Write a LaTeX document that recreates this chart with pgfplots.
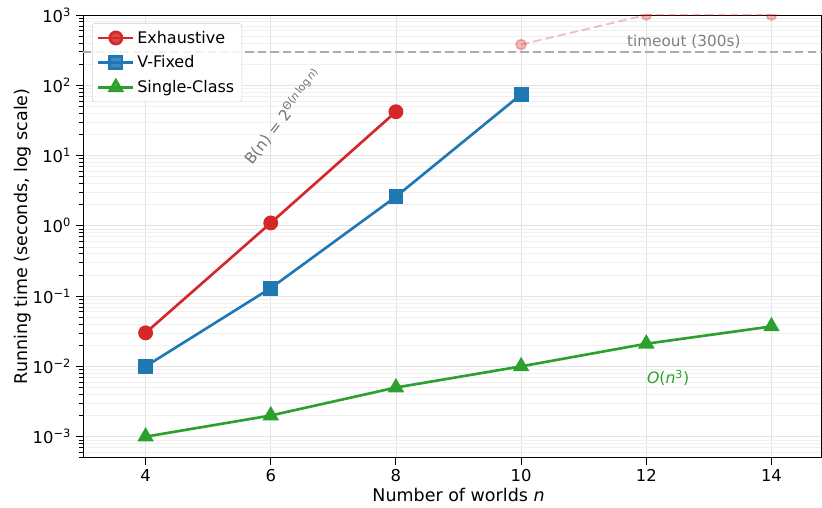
\documentclass[border=0pt]{standalone}
\usepackage{pgfplots}
\pgfplotsset{compat=1.18}
\usepackage{fontspec}
\setmainfont{DejaVu Sans}
\definecolor{tabred}{HTML}{D62728}
\definecolor{tabblue}{HTML}{1F77B4}
\definecolor{tabgreen}{HTML}{2CA02C}
\begin{document}
\begin{tikzpicture}
\begin{axis}[
  name=ax,
  scale only axis, width=532pt, height=319pt,
  xmin=3, xmax=14.8, ymode=log, ymin=5e-4, ymax=1e3,
  xtick={4,6,8,10,12,14},
  ytick={1e-3,1e-2,1e-1,1,10,100,1000},
  yticklabels={10\textsuperscript{−3},10\textsuperscript{−2},10\textsuperscript{−1},10\textsuperscript{0},10\textsuperscript{1},10\textsuperscript{2},10\textsuperscript{3}},
  minor ytick={5e-4,6e-4,7e-4,8e-4,9e-4,
    2e-3,3e-3,4e-3,5e-3,6e-3,7e-3,8e-3,9e-3,
    2e-2,3e-2,4e-2,5e-2,6e-2,7e-2,8e-2,9e-2,
    0.2,0.3,0.4,0.5,0.6,0.7,0.8,0.9,
    2,3,4,5,6,7,8,9,
    20,30,40,50,60,70,80,90,
    200,300,400,500,600,700,800,900},
  grid=both,
  major grid style={gray!22, line width=0.6pt},
  minor grid style={gray!12, line width=0.5pt},
  xtick pos=bottom, ytick pos=left,
  tick align=outside,
  major tick style={black, line width=0.7pt},
  minor tick style={black, line width=0.5pt},
  major tick length=5pt, minor tick length=3pt,
  axis line style={black, line width=0.7pt},
  xlabel={Number of worlds \textit{n}},
  ylabel={Running time (seconds, log scale)},
  label style={font=\fontsize{12.6}{15}\selectfont, inner sep=0pt},
  xlabel style={at={(axis description cs:0.5085,0)}, anchor=base, yshift=-31.4pt},
  ylabel style={at={(axis description cs:-0.0705,0.5)}, anchor=south},
  ticklabel style={font=\fontsize{11.8}{14}\selectfont},
  /pgf/number format/assume math mode=true,
  legend style={at={(0.0122,0.982)}, anchor=north west, font=\fontsize{11.5}{14}\selectfont,
    draw=gray!35, rounded corners=2pt, fill=white, fill opacity=0.85, text opacity=1,
    inner sep=3.5pt, row sep=3.5pt},
  legend cell align=left,
  legend image code/.code={\draw[mark repeat=2,mark phase=2] plot coordinates {(0cm,0cm)(0.44cm,0cm)(0.88cm,0cm)};},
  clip marker paths=true,
]
\addplot[forget plot, gray!65, line width=1.3pt, dash pattern=on 6pt off 3pt] coordinates {(3,300) (14.8,300)};
\addplot[forget plot, tabred, opacity=0.3, line width=1.3pt, dash pattern=on 6pt off 3pt, mark=*, mark size=3.6pt, mark options={solid}] coordinates {(10,380) (12,1000) (14,1000)};
\addplot[tabred, line width=1.9pt, mark=*, mark size=4.4pt] coordinates {(4,0.03) (6,1.1) (8,42)};
\addlegendentry{Exhaustive}
\addplot[tabblue, line width=1.9pt, mark=square*, mark size=4.4pt] coordinates {(4,0.01) (6,0.13) (8,2.6) (10,74)};
\addlegendentry{V-Fixed}
\addplot[tabgreen, line width=1.9pt, mark=triangle*, mark size=5pt] coordinates {(4,0.001) (6,0.002) (8,0.005) (10,0.01) (12,0.021) (14,0.037)};
\addlegendentry{Single-Class}
\node[rotate=52, text=gray!90!black, font=\fontsize{11}{13}\selectfont] at (axis cs:6.2,36) {B(n) = 2\textsuperscript{Θ(\textit{n}\,log\,\textit{n})}};
\node[text=tabgreen, font=\fontsize{11.3}{13}\selectfont] at (axis cs:12.35,0.0068) {\textit{O}(\textit{n}\textsuperscript{3})};
\node[text=gray, font=\fontsize{11}{13}\selectfont] at (axis cs:12.6,420) {timeout (300s)};
\end{axis}
\path ([xshift=-59.8pt,yshift=10.8pt]ax.north west);
\path ([yshift=-36pt]ax.south west);
\end{tikzpicture}
\end{document}
